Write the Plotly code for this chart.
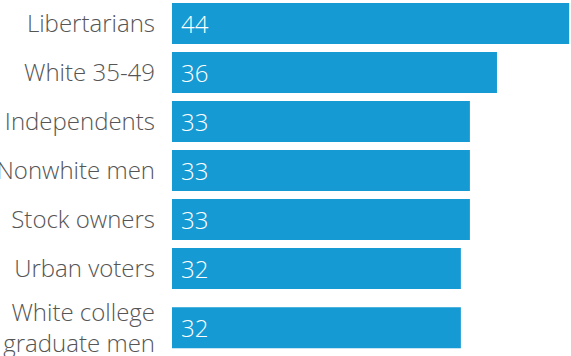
import plotly.graph_objects as go

categories = ["Libertarians", "White 35-49", "Independents", "Nonwhite men",
              "Stock owners", "Urban voters", "White college<br>graduate men"]
values = [44, 36, 33, 33, 33, 32, 32]

# vertical positions (last row gets extra room for its two-line label)
positions = [0, 1, 2, 3, 4, 5, 6.21]

BAR = "#159AD3"
FONT = "'Open Sans', sans-serif"

fig = go.Figure(go.Bar(
    x=values, y=positions, orientation="h",
    marker=dict(color=BAR, line=dict(width=0)),
    width=0.84, hoverinfo="skip",
))

for v, p in zip(values, positions):
    fig.add_annotation(x=0, y=p, text=str(v), showarrow=False,
                       xanchor="left", xshift=7, yanchor="middle",
                       font=dict(color="white", size=24, family=FONT, weight=300))

fig.update_layout(
    width=571, height=356,
    margin=dict(l=172, r=0, t=0, b=0),
    paper_bgcolor="white", plot_bgcolor="white",
    showlegend=False,
    font=dict(family=FONT),
    xaxis=dict(range=[0, 44.2], visible=False, fixedrange=True),
    yaxis=dict(range=[6.786, -0.48], tickvals=positions, ticktext=categories,
               showgrid=False, zeroline=False, showline=False, ticks="",
               automargin=False, ticklabelstandoff=16, ticklabeloverflow="allow",
               tickfont=dict(size=24, color="#555555", family=FONT, weight=300)),
)

fig.write_html("out.html")
